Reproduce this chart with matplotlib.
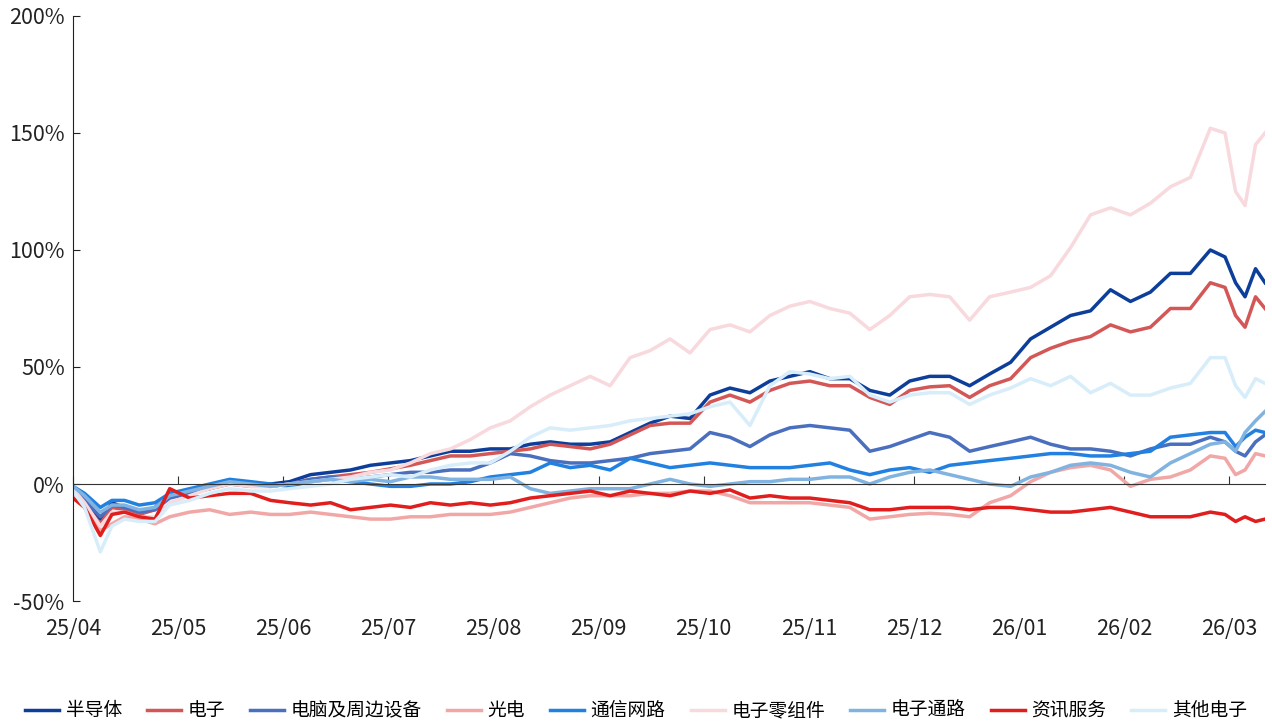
import numpy as np
import matplotlib.pyplot as plt

plt.rcParams['font.family'] = ['Noto Sans CJK SC', 'DejaVu Sans']

# x position in months since 25/04 (0 = start of April 2025)
t = [0.00, 0.11, 0.26, 0.37, 0.49, 0.63, 0.78, 0.92, 1.11, 1.30,
     1.49, 1.69, 1.88, 2.06, 2.26, 2.45, 2.64, 2.83, 3.02, 3.21,
     3.40, 3.59, 3.78, 3.97, 4.16, 4.35, 4.54, 4.73, 4.92, 5.11,
     5.30, 5.49, 5.68, 5.87, 6.06, 6.25, 6.44, 6.63, 6.82, 7.01,
     7.20, 7.39, 7.58, 7.77, 7.96, 8.15, 8.34, 8.53, 8.72, 8.92,
     9.11, 9.30, 9.49, 9.68, 9.87, 10.06, 10.25, 10.44, 10.63, 10.82,
     10.96, 11.06, 11.15, 11.25, 11.34]

month_labels = ['25/04', '25/05', '25/06', '25/07', '25/08', '25/09',
                '25/10', '25/11', '25/12', '26/01', '26/02', '26/03']

# cumulative return, %
semi = [-2, -8, -15, -8, -10, -12, -10, -4, -3, -1,
        1, 0, 0, 1, 4, 5, 6, 8, 9, 10,
        12, 14, 14, 15, 15, 17, 18, 17, 17, 18,
        22, 26, 29, 28, 38, 41, 39, 44, 46, 48,
        45, 45, 40, 38, 44, 46, 46, 42, 47, 52,
        62, 67, 72, 74, 83, 78, 82, 90, 90, 100,
        97, 86, 80, 92, 86]
elec = [-3, -9, -17, -10, -11, -13, -11, -5, -4, -2,
        0, -1, -1, 0, 2, 3, 4, 5, 6.5, 8,
        10, 12, 12, 13, 14, 15, 17, 16, 15, 17,
        21, 25, 26, 26, 35, 38, 35, 40, 43, 44,
        42, 42, 37, 34, 40, 41.5, 42, 37, 42, 45,
        54, 58, 61, 63, 68, 65, 67, 75, 75, 86,
        84, 72, 67, 80, 75]
computer = [-2, -7, -14, -9, -10, -12, -11, -6, -4, -2,
            1, 0, -1, 0, 2, 3, 2, 3, 4, 5,
            5, 6, 6, 9, 13, 12, 10, 9, 9, 10,
            11, 13, 14, 15, 22, 20, 16, 21, 24, 25,
            24, 23, 14, 16, 19, 22, 20, 14, 16, 18,
            20, 17, 15, 15, 14, 12, 15, 17, 17, 20,
            18, 14, 12, 18, 21]
optic = [-4, -10, -20, -17, -14, -15, -17, -14, -12, -11,
         -13, -12, -13, -13, -12, -13, -14, -15, -15, -14,
         -14, -13, -13, -13, -12, -10, -8, -6, -5, -5,
         -5, -4, -4, -3, -3, -5, -8, -8, -8, -8,
         -9, -10, -15, -14, -13, -12.5, -13, -14, -8, -5,
         1, 5, 7, 8, 6, -1, 2, 3, 6, 12,
         11, 4, 6, 13, 12]
network = [-1, -4, -10, -7, -7, -9, -8, -4, -2, 0,
           2, 1, 0, -1, 1, 2, 1, 0, -1, -1,
           0, 0, 1, 3, 4, 5, 9, 7, 8, 6,
           11, 9, 7, 8, 9, 8, 7, 7, 7, 8,
           9, 6, 4, 6, 7, 5, 8, 9, 10, 11,
           12, 13, 13, 12, 12, 13, 14, 20, 21, 22,
           22, 16, 20, 23, 22]
component = [-2, -8, -18, -12, -12, -14, -14, -8, -5, -2,
             0, -1, -1, 0, 1, 2, 3, 5, 6, 9,
             13, 15, 19, 24, 27, 33, 38, 42, 46, 42,
             54, 57, 62, 56, 66, 68, 65, 72, 76, 78,
             75, 73, 66, 72, 80, 81, 80, 70, 80, 82,
             84, 89, 101, 115, 118, 115, 120, 127, 131, 152,
             150, 125, 119, 145, 150]
channel = [-1, -5, -12, -9, -9, -11, -10, -5, -3, -1,
           1, 0, -1, 0, 1, 2, 1, 2, 1, 3,
           3, 2, 2, 2, 3, -2, -4, -3, -2, -2,
           -2, 0, 2, 0, -1, 0, 1, 1, 2, 2,
           3, 3, 0, 3, 5, 6, 4, 2, 0, -1,
           3, 5, 8, 9, 8, 5, 3, 9, 13, 17,
           18, 14, 22, 27, 31]
info = [-6, -10, -22, -13, -12, -14, -15, -2, -6, -5,
        -4, -4, -7, -8, -9, -8, -11, -10, -9, -10,
        -8, -9, -8, -9, -8, -6, -5, -4, -3, -5,
        -3, -4, -5, -3, -4, -2.5, -6, -5, -6, -6,
        -7, -8, -11, -11, -10, -10, -10, -11, -10, -10,
        -11, -12, -12, -11, -10, -12, -14, -14, -14, -12,
        -13, -16, -14, -16, -15]
other = [-3, -10, -29, -18, -15, -16, -16, -9, -7, -4,
         -2, -3, -3, -2, -1, 0, 2, 3, 4, 3,
         6, 8, 9, 9, 14, 20, 24, 23, 24, 25,
         27, 28, 29, 30, 33, 35, 25, 42, 48, 47,
         45, 46, 38, 35, 38, 39, 39, 34, 38, 41,
         45, 42, 46, 39, 43, 38, 38, 41, 43, 54,
         54, 42, 37, 45, 43]

names = ['半导体', '电子', '电脑及周边设备', '光电', '通信网路',
         '电子零组件', '电子通路', '资讯服务', '其他电子']
series = [semi, elec, computer, optic, network, component, channel, info, other]
colors = ['#0D3F9A', '#D45757', '#4A6FBF', '#F2A7A7', '#2180E0',
          '#F8D9DD', '#80B3E0', '#E01E1E', '#D8EDFA']

fig = plt.figure(figsize=(12.72, 7.25), dpi=100)
ax = fig.add_axes([0.0574, 0.171, 0.9371, 0.807])

for vals, name, c in zip(series, names, colors):
    ax.plot(t, vals, color=c, lw=2.5, label=name, solid_joinstyle='round')

ax.set_xlim(0, 11.34)
ax.set_ylim(-50, 200)
ax.set_yticks(np.arange(-50, 201, 50))
ax.set_yticklabels([f'{v}%' for v in range(-50, 201, 50)])

# x axis line sits on 0 %, month labels under the plot
ax.spines['top'].set_visible(False)
ax.spines['right'].set_visible(False)
ax.spines['bottom'].set_position(('data', 0))
ax.spines['left'].set_color('#222222')
ax.spines['bottom'].set_color('#333333')
ax.set_xticks(range(12))
ax.tick_params(axis='x', direction='in', length=6, labelbottom=False, color='#333333')
ax.tick_params(axis='y', direction='in', length=5, labelsize=15.5, pad=6,
               color='#222222', labelcolor='#222222')

sec = ax.secondary_xaxis(location=0)
sec.set_xticks(range(12))
sec.set_xticklabels(month_labels)
sec.tick_params(length=0, labelsize=15.5, pad=12, labelcolor='#222222')
sec.spines['bottom'].set_visible(False)

fig.legend(loc='lower center', bbox_to_anchor=(0.5, -0.018), ncol=9, frameon=False,
           fontsize=13.5, handlelength=1.8, handletextpad=0.35, columnspacing=1.35)

fig.savefig('out.png', dpi=100)
